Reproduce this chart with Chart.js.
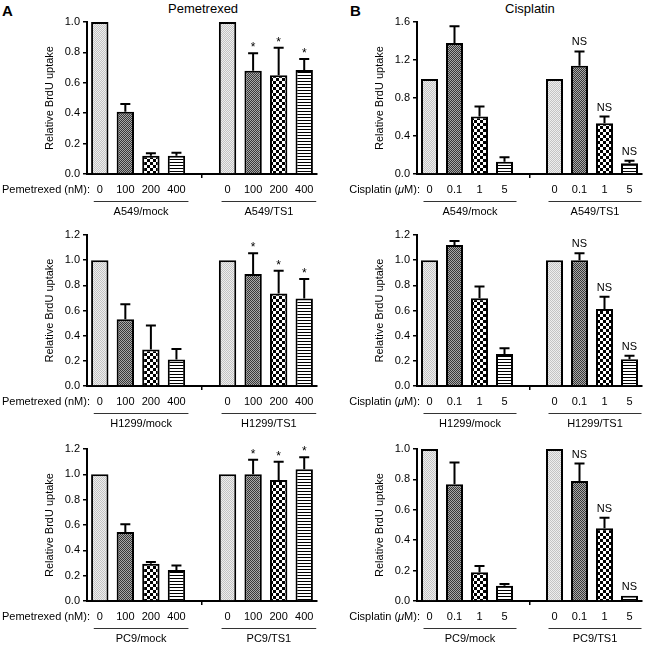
<!DOCTYPE html>
<html>
<head>
<meta charset="utf-8">
<script src="https://cdn.jsdelivr.net/npm/chart.js@4.4.1/dist/chart.umd.min.js"></script>
<style>
  body { margin: 0; background: #fff; }
  #fig { position: relative; width: 648px; height: 646px; font-family: "Liberation Sans", Arial, sans-serif; }
  canvas { position: absolute; }
  .lbl { position: absolute; color: #000; white-space: nowrap; line-height: 1; }
</style>
</head>
<body>
<div id="fig">
  <div class="lbl" style="left:2px;top:3px;font-size:15px;font-weight:bold;">A</div>
  <div class="lbl" style="left:350px;top:3px;font-size:15px;font-weight:bold;">B</div>
  <div class="lbl" style="left:168px;top:2px;font-size:13px;">Pemetrexed</div>
  <div class="lbl" style="left:505px;top:2px;font-size:13px;">Cisplatin</div>
  <canvas id="a1" width="324" height="220" style="left:0;top:0"></canvas>
  <canvas id="a2" width="324" height="218" style="left:0;top:215px"></canvas>
  <canvas id="a3" width="324" height="221" style="left:0;top:425px"></canvas>
  <canvas id="b1" width="324" height="220" style="left:324px;top:0"></canvas>
  <canvas id="b2" width="324" height="218" style="left:324px;top:215px"></canvas>
  <canvas id="b3" width="324" height="221" style="left:324px;top:425px"></canvas>
</div>
<script>
// doses
const dosePem = ['0', '100', '200', '400'];
const doseCis = ['0', '0.1', '1', '5'];

// Pemetrexed, mean and SD (relative BrdU uptake)
const pemA549Mock = [1.0, 0.41, 0.12, 0.12];
const pemA549MockSd = [0, 0.05, 0.017, 0.02];
const pemA549Ts1 = [1.0, 0.68, 0.65, 0.685];
const pemA549Ts1Sd = [0, 0.115, 0.18, 0.072];

const pemH1299Mock = [1.0, 0.53, 0.29, 0.21];
const pemH1299MockSd = [0, 0.12, 0.19, 0.085];
const pemH1299Ts1 = [1.0, 0.89, 0.735, 0.695];
const pemH1299Ts1Sd = [0, 0.165, 0.18, 0.155];

const pemPc9Mock = [1.0, 0.545, 0.295, 0.245];
const pemPc9MockSd = [0, 0.06, 0.013, 0.035];
const pemPc9Ts1 = [1.0, 1.0, 0.955, 1.04];
const pemPc9Ts1Sd = [0, 0.115, 0.145, 0.095];

// Cisplatin
const cisA549Mock = [1.0, 1.38, 0.605, 0.13];
const cisA549MockSd = [0, 0.175, 0.105, 0.046];
const cisA549Ts1 = [1.0, 1.14, 0.535, 0.113];
const cisA549Ts1Sd = [0, 0.15, 0.07, 0.027];

const cisH1299Mock = [1.0, 1.12, 0.697, 0.254];
const cisH1299MockSd = [0, 0.032, 0.093, 0.046];
const cisH1299Ts1 = [1.0, 1.0, 0.612, 0.212];
const cisH1299Ts1Sd = [0, 0.054, 0.098, 0.029];

const cisPc9Mock = [1.0, 0.768, 0.189, 0.1];
const cisPc9MockSd = [0, 0.144, 0.041, 0.012];
const cisPc9Ts1 = [1.0, 0.789, 0.478, 0.035];
const cisPc9Ts1Sd = [0, 0.115, 0.07, 0];

const starMarks = ['', '*', '*', '*'];
const nsMarks = ['', 'NS', 'NS', 'NS'];

const FONT = '"Liberation Sans", Arial, sans-serif';

//------------- patterns -------------
function makePattern(w, h, draw) {
  const c = document.createElement('canvas');
  c.width = w; c.height = h;
  const g = c.getContext('2d');
  g.fillStyle = '#fff';
  g.fillRect(0, 0, w, h);
  draw(g);
  return g.createPattern(c, 'repeat');
}
const patLight = makePattern(2, 2, g => {
  g.fillStyle = '#eeeeee'; g.fillRect(0, 0, 2, 2);
  g.fillStyle = '#c4c4c4'; g.fillRect(1, 0, 1, 1); g.fillRect(0, 1, 1, 1);
});
const patDark = makePattern(2, 2, g => {
  g.fillStyle = '#a8a8a8'; g.fillRect(0, 0, 2, 2);
  g.fillStyle = '#383838'; g.fillRect(1, 0, 1, 1); g.fillRect(0, 1, 1, 1);
});
const patCheck = makePattern(6, 6, g => {
  g.fillStyle = '#000'; g.fillRect(0, 0, 3, 3); g.fillRect(3, 3, 3, 3);
});
const patStripe = makePattern(3, 3, g => {
  g.fillStyle = '#000'; g.fillRect(0, 0, 3, 1);
});
const patterns = [patLight, patDark, patCheck, patStripe];

//------------- extras: error bars, marks, labels under the axis -------------
const extras = {
  id: 'extras',
  afterDatasetsDraw(chart) {
    const p = chart.options.plugins.extras;
    const ctx = chart.ctx;
    const xs = chart.scales.x, ys = chart.scales.y;
    const vals = chart.data.datasets[0].data;
    ctx.save();
    ctx.strokeStyle = '#000';
    ctx.fillStyle = '#000';
    ctx.lineWidth = 2;
    vals.forEach((v, i) => {
      if (v === null) return;
      const sd = p.sd[i] || 0;
      const x = xs.getPixelForValue(i);
      const top = ys.getPixelForValue(v + sd);
      if (sd > 0) {
        ctx.beginPath();
        ctx.moveTo(x, ys.getPixelForValue(v));
        ctx.lineTo(x, top);
        ctx.moveTo(x - 5, top);
        ctx.lineTo(x + 5, top);
        ctx.stroke();
      }
      const m = p.marks[i];
      if (m) {
        ctx.textAlign = 'center';
        ctx.textBaseline = 'alphabetic';
        ctx.font = (m === '*' ? '12px ' : '11px ') + FONT;
        ctx.fillText(m, x, top - (m === '*' ? 2 : 6));
      }
    });
    ctx.restore();
  },
  afterDraw(chart) {
    const p = chart.options.plugins.extras;
    const ctx = chart.ctx;
    const xs = chart.scales.x;
    const area = chart.chartArea;
    ctx.save();
    ctx.fillStyle = '#000';
    ctx.font = '11px ' + FONT;
    // y title
    ctx.save();
    ctx.translate(p.titleX, (area.top + area.bottom) / 2);
    ctx.rotate(-Math.PI / 2);
    ctx.textAlign = 'center';
    ctx.textBaseline = 'middle';
    ctx.fillText('Relative BrdU uptake', 0, 0);
    ctx.restore();
    // dose row prefix, drawn right to left
    ctx.textBaseline = 'middle';
    ctx.textAlign = 'right';
    let rx = area.left + 3;
    const yRow = area.bottom + 16;
    for (let k = p.prefix.length - 1; k >= 0; k--) {
      const part = p.prefix[k];
      ctx.font = (part.italic ? 'italic ' : '') + '11px ' + FONT;
      ctx.fillText(part.t, rx, yRow);
      rx -= ctx.measureText(part.t).width;
    }
    ctx.font = '11px ' + FONT;
    // group lines + names
    ctx.strokeStyle = '#333';
    ctx.lineWidth = 1;
    ctx.textAlign = 'center';
    p.groups.forEach((name, g) => {
      const x1 = xs.getPixelForValue(g * 5) - 6;
      const x2 = xs.getPixelForValue(g * 5 + 3) + 12;
      const yl = area.bottom + 27;
      ctx.beginPath();
      ctx.moveTo(x1, yl + 0.5);
      ctx.lineTo(x2, yl + 0.5);
      ctx.stroke();
      ctx.fillText(name, (x1 + x2) / 2, area.bottom + 38);
    });
    ctx.restore();
  }
};

function panel(id, o) {
  const canvas = document.getElementById(id);
  const labels = [...o.doses, '', ...o.doses];
  const data = [...o.mock, null, ...o.ts1];
  const sd = [...o.mockSd, 0, ...o.ts1Sd];
  const marks = ['', '', '', '', '', ...o.marks];
  const colors = [...patterns, 'transparent', ...patterns];
  const axisW = o.axisX - o.left;
  new Chart(canvas.getContext('2d'), {
    type: 'bar',
    data: {
      labels: labels,
      datasets: [{
        data: data,
        backgroundColor: colors,
        borderColor: '#000',
        borderWidth: 2,
        borderSkipped: 'bottom',
        barPercentage: 0.68,
        categoryPercentage: 1.0
      }]
    },
    options: {
      responsive: false,
      animation: false,
      devicePixelRatio: 1,
      layout: {
        padding: { top: o.yTop - o.top, right: canvas.width - axisW - o.plotW, left: 0, bottom: 0 }
      },
      plugins: {
        legend: { display: false },
        tooltip: { enabled: false },
        extras: {
          sd: sd, marks: marks, groups: o.groups, prefix: o.prefix,
          titleX: o.titleX - o.left
        }
      },
      scales: {
        x: {
          grid: {
            offset: false,
            drawOnChartArea: false,
            drawTicks: true,
            tickLength: 4,
            lineWidth: 1.5,
            color: c => (c.index === 4 ? '#000' : 'rgba(0,0,0,0)')
          },
          border: { color: '#000', width: 2 },
          ticks: { color: '#000', font: { family: FONT, size: 11 }, padding: 5, maxRotation: 0, autoSkip: false },
          afterFit: s => { s.height = o.top + canvas.height - o.yBot; }
        },
        y: {
          min: 0,
          max: o.yMax,
          grid: { drawOnChartArea: false, drawTicks: true, tickLength: 4, lineWidth: 1.5, color: '#000' },
          border: { color: '#000', width: 2 },
          ticks: {
            stepSize: o.step,
            color: '#000',
            padding: 3,
            font: { family: FONT, size: 11 },
            callback: v => Number(v).toFixed(1)
          },
          afterFit: s => { s.width = axisW; }
        }
      }
    },
    plugins: [extras]
  });
}

const prefixPem = [{ t: 'Pemetrexed (nM):' }];
const prefixCis = [{ t: 'Cisplatin (' }, { t: '\u03bc', italic: true }, { t: 'M):' }];

const colA = { left: 0, axisX: 87, plotW: 230, titleX: 50, doses: dosePem, prefix: prefixPem, marks: starMarks };
const colB = { left: 324, axisX: 417, plotW: 225, titleX: 380, doses: doseCis, prefix: prefixCis, marks: nsMarks };

panel('a1', Object.assign({}, colA, { top: 0, yTop: 22, yBot: 174, yMax: 1.0, step: 0.2,
  mock: pemA549Mock, mockSd: pemA549MockSd, ts1: pemA549Ts1, ts1Sd: pemA549Ts1Sd, groups: ['A549/mock', 'A549/TS1'] }));
panel('a2', Object.assign({}, colA, { top: 215, yTop: 235, yBot: 386, yMax: 1.2, step: 0.2,
  mock: pemH1299Mock, mockSd: pemH1299MockSd, ts1: pemH1299Ts1, ts1Sd: pemH1299Ts1Sd, groups: ['H1299/mock', 'H1299/TS1'] }));
panel('a3', Object.assign({}, colA, { top: 425, yTop: 449, yBot: 601, yMax: 1.2, step: 0.2,
  mock: pemPc9Mock, mockSd: pemPc9MockSd, ts1: pemPc9Ts1, ts1Sd: pemPc9Ts1Sd, groups: ['PC9/mock', 'PC9/TS1'] }));

panel('b1', Object.assign({}, colB, { top: 0, yTop: 22, yBot: 174, yMax: 1.6, step: 0.4,
  mock: cisA549Mock, mockSd: cisA549MockSd, ts1: cisA549Ts1, ts1Sd: cisA549Ts1Sd, groups: ['A549/mock', 'A549/TS1'] }));
panel('b2', Object.assign({}, colB, { top: 215, yTop: 235, yBot: 386, yMax: 1.2, step: 0.2,
  mock: cisH1299Mock, mockSd: cisH1299MockSd, ts1: cisH1299Ts1, ts1Sd: cisH1299Ts1Sd, groups: ['H1299/mock', 'H1299/TS1'] }));
panel('b3', Object.assign({}, colB, { top: 425, yTop: 449, yBot: 601, yMax: 1.0, step: 0.2,
  mock: cisPc9Mock, mockSd: cisPc9MockSd, ts1: cisPc9Ts1, ts1Sd: cisPc9Ts1Sd, groups: ['PC9/mock', 'PC9/TS1'] }));
</script>
</body>
</html>
